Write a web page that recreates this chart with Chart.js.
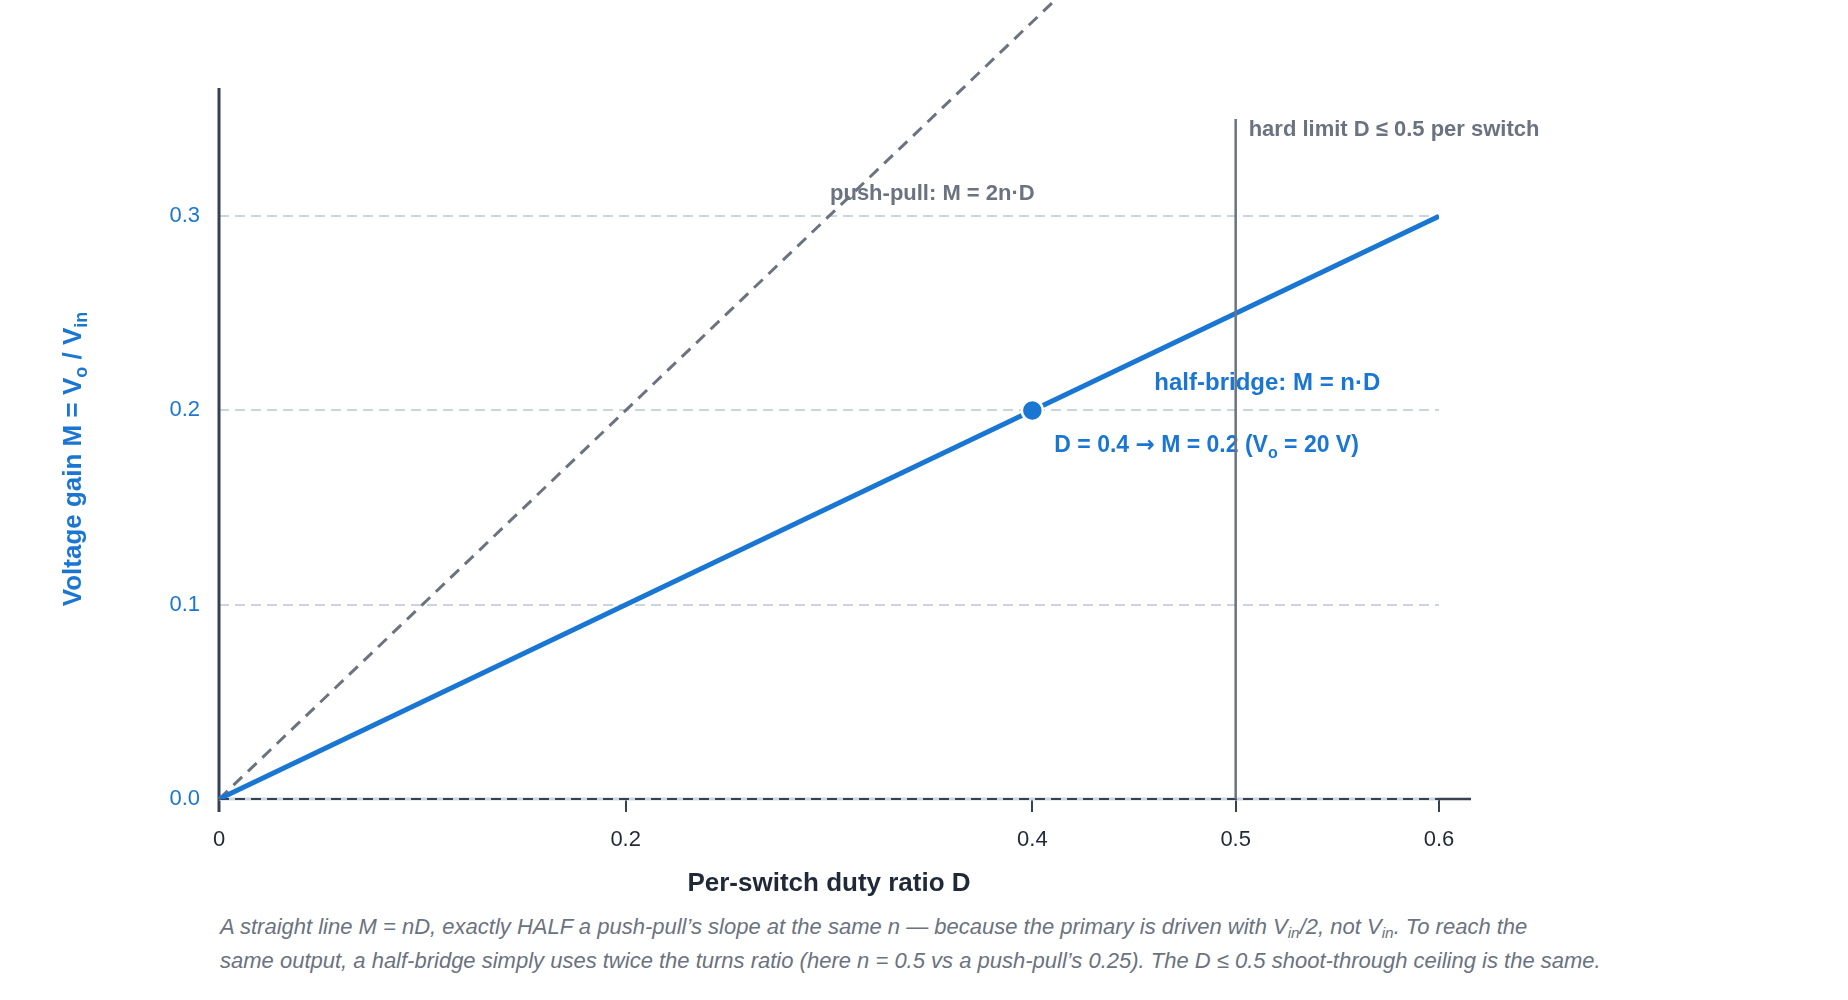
<!DOCTYPE html>
<html><head><meta charset="utf-8">
<script src="https://cdn.jsdelivr.net/npm/chart.js@4.4.1/dist/chart.umd.min.js"></script>
<style>
html,body{margin:0;padding:0;background:#fff;}
body{width:1848px;height:1000px;position:relative;overflow:hidden;font-family:"Liberation Sans",Arial,sans-serif;}
#wrap{position:absolute;left:0;top:0;width:1848px;height:900px;}
#cap{position:absolute;left:220px;top:910px;font-style:italic;font-size:22px;line-height:34px;color:#6b7280;white-space:nowrap;}
#cap sub{font-size:70%;vertical-align:-4px;line-height:0;}
</style></head><body>
<div id="wrap"><canvas id="c"></canvas></div>
<div id="cap">A straight line M = nD, exactly HALF a push-pull’s slope at the same n — because the primary is driven with V<sub>in</sub>/2, not V<sub>in</sub>. To reach the<br>same output, a half-bridge simply uses twice the turns ratio (here n = 0.5 vs a push-pull’s 0.25). The D ≤ 0.5 shoot-through ceiling is the same.</div>
<script>
// ---- data ----
const dutyD = [0, 0.6];
const halfBridgeM = [0, 0.3];
const pushPullM = [0, 0.6];
const opD = [0.4];
const opM = [0.2];
const limitD = [0.5, 0.5];
const limitM = [0, 0.35];
const xTicks = [0, 0.2, 0.4, 0.5, 0.6];
const yTicks = [0, 0.1, 0.2, 0.3];
const xRange = [0, 0.6];
const yRange = [0, 0.35];

const BLUE = '#1976d2';
const GREY = '#6b7280';
const DARK = '#374151';
const FONT = '"Liberation Sans", Arial, sans-serif';
const ARROWFONT = '"DejaVu Sans", "Liberation Sans", sans-serif';

function pts(xs, ys){ return xs.map((x,i)=>({x:x, y:ys[i]})); }

// parts: [text, isSub, family?]
function drawRich(ctx, parts, x, baseY, align, size, color){
  ctx.save();
  ctx.fillStyle = color;
  ctx.textBaseline = 'alphabetic';
  const fontOf = p => 'bold ' + (p[1] ? Math.round(size*0.7) : size) + 'px ' + (p[2] || FONT);
  let total = 0;
  const widths = parts.map(p=>{
    ctx.font = fontOf(p);
    const w = ctx.measureText(p[0]).width; total += w; return w;
  });
  let cx = align === 'center' ? x - total/2 : x;
  parts.forEach((p,i)=>{
    ctx.font = fontOf(p);
    ctx.textAlign = 'left';
    ctx.fillText(p[0], cx, baseY + (p[1] ? size*0.25 : 0));
    cx += widths[i];
  });
  ctx.restore();
}

const decor = {
  id: 'decor',
  beforeDatasetsDraw(chart){
    const ctx = chart.ctx, xs = chart.scales.x, ys = chart.scales.y, a = chart.chartArea;
    const x0 = xs.getPixelForValue(0), y0 = ys.getPixelForValue(0);
    ctx.save();
    // y axis line
    ctx.strokeStyle = DARK; ctx.lineWidth = 3;
    ctx.beginPath(); ctx.moveTo(x0, y0 + 13); ctx.lineTo(x0, a.top - 31); ctx.stroke();
    // x axis line: beyond chart area solid dark
    ctx.lineWidth = 2.5;
    ctx.beginPath(); ctx.moveTo(a.right - 2, y0); ctx.lineTo(a.right + 32, y0); ctx.stroke();
    // inside chart area: light band with dark dashes
    ctx.strokeStyle = '#cbd5e1'; ctx.lineWidth = 3;
    ctx.beginPath(); ctx.moveTo(x0, y0); ctx.lineTo(a.right, y0); ctx.stroke();
    ctx.strokeStyle = DARK; ctx.lineWidth = 2; ctx.setLineDash([10, 6]);
    ctx.beginPath(); ctx.moveTo(x0, y0); ctx.lineTo(a.right, y0); ctx.stroke();
    ctx.setLineDash([]);
    ctx.restore();

    // axis titles
    drawRich(ctx, [['Per-switch duty ratio D', false]], (a.left + a.right)/2, 891, 'center', 26, '#1f2937');
    ctx.save();
    ctx.translate(71, (a.top + a.bottom)/2);
    ctx.rotate(-Math.PI/2);
    drawRich(ctx, [['Voltage gain M = V', false], ['o', true], [' / V', false], ['in', true]], 0, 9.5, 'center', 26, BLUE);
    ctx.restore();

    // annotations
    drawRich(ctx, [['hard limit D ≤ 0.5 per switch', false]], xs.getPixelForValue(0.5) + 13, ys.getPixelForValue(0.35) + 17, 'left', 22, GREY);
    drawRich(ctx, [['push-pull: M = 2n·D', false]], xs.getPixelForValue(0.3) + 1, ys.getPixelForValue(0.3) - 16, 'left', 22, GREY);
    drawRich(ctx, [['half-bridge: M = n·D', false]], xs.getPixelForValue(0.46), ys.getPixelForValue(0.2) - 20, 'left', 24, BLUE);
    drawRich(ctx, [['D = 0.4 ', false], ['→', false, ARROWFONT], [' M = 0.2 (V', false], ['o', true], [' = 20 V)', false]], xs.getPixelForValue(0.4) + 22, ys.getPixelForValue(0.2) + 42, 'left', 23, BLUE);
  }
};

new Chart(document.getElementById('c'), {
  type: 'scatter',
  data: {
    datasets: [
      { label: 'operating point', data: pts(opD, opM), backgroundColor: BLUE, borderColor: '#ffffff', borderWidth: 2.5, pointRadius: 10.5, pointHoverRadius: 10.5, showLine: false },
      { label: 'limit', data: pts(limitD, limitM), borderColor: GREY, borderWidth: 2.5, pointRadius: 0, showLine: true, fill: false },
      { label: 'half-bridge', data: pts(dutyD, halfBridgeM), borderColor: BLUE, borderWidth: 5, pointRadius: 0, showLine: true, fill: false, borderCapStyle: 'butt' },
      { label: 'push-pull', data: pts(dutyD, pushPullM), borderColor: GREY, borderWidth: 3, borderDash: [12, 8], pointRadius: 0, showLine: true, fill: false, clip: false }
    ]
  },
  options: {
    responsive: true,
    maintainAspectRatio: false,
    animation: false,
    events: [],
    layout: { padding: { top: 119, right: 409, left: 0, bottom: 0 } },
    plugins: { legend: { display: false }, tooltip: { enabled: false } },
    scales: {
      x: {
        type: 'linear', min: xRange[0], max: xRange[1],
        afterFit(s){ s.height = 101; },
        afterBuildTicks(s){ s.ticks = xTicks.map(v=>({value:v})); },
        grid: { display: true, drawOnChartArea: false, drawTicks: true, tickLength: 13, color: DARK, lineWidth: 2 },
        border: { display: false },
        ticks: { padding: 15, color: '#1f2937', font: { family: FONT, size: 22 }, maxRotation: 0, autoSkip: false,
          callback: v => v === 0 ? '0' : String(v) }
      },
      y: {
        type: 'linear', min: yRange[0], max: yRange[1],
        afterFit(s){ s.width = 219; },
        afterBuildTicks(s){ s.ticks = yTicks.map(v=>({value:v})); },
        grid: { display: true, drawTicks: false, color: '#cbd5e1', lineWidth: 2 },
        border: { display: false, dash: [10, 6] },
        ticks: { padding: 19, color: BLUE, font: { family: FONT, size: 22 }, autoSkip: false,
          callback: v => Number(v).toFixed(1) }
      }
    }
  },
  plugins: [decor]
});
</script>
</body></html>
